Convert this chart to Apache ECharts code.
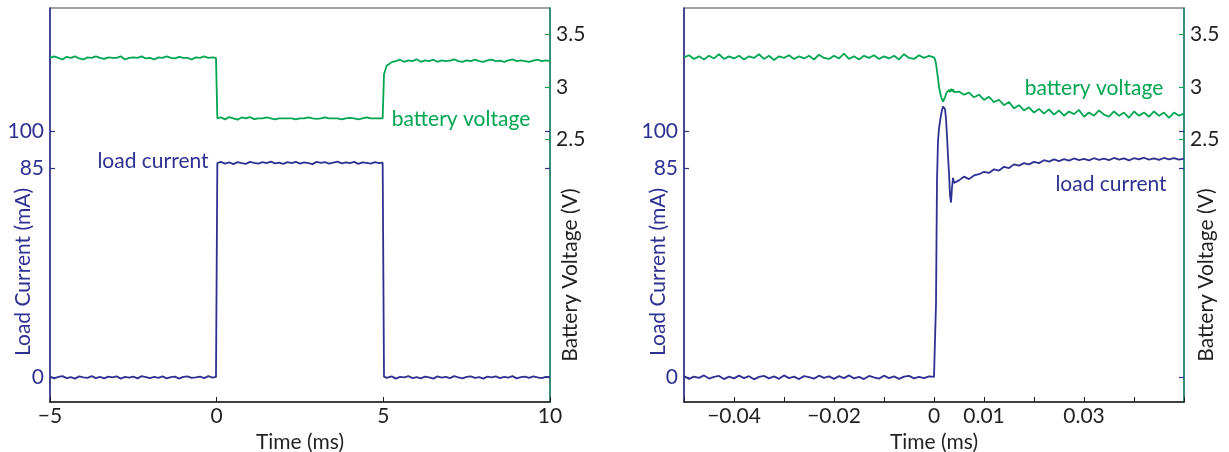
<!DOCTYPE html>
<html><head><meta charset="utf-8">
<script src="https://cdn.jsdelivr.net/npm/echarts@6/dist/echarts.min.js"></script>
<style>html,body{margin:0;padding:0;background:#fff}#c{width:1229px;height:452px}</style>
</head><body><div id="c"></div>
<script>
// ---------- DATA ----------
// Left panel: time (ms)
const leftTime = [
 -5,-4.875,-4.75,-4.625,-4.5,-4.375,-4.25,-4.125,-4,-3.875,
 -3.75,-3.625,-3.5,-3.375,-3.25,-3.125,-3,-2.875,-2.75,-2.625,
 -2.5,-2.375,-2.25,-2.125,-2,-1.875,-1.75,-1.625,-1.5,-1.375,
 -1.25,-1.125,-1,-0.875,-0.75,-0.625,-0.5,-0.375,-0.25,-0.125,
 -0.02,
 0.02,0.125,0.25,0.375,0.5,0.625,0.75,0.875,1,1.125,
 1.25,1.375,1.5,1.625,1.75,1.875,2,2.125,2.25,2.375,
 2.5,2.625,2.75,2.875,3,3.125,3.25,3.375,3.5,3.625,
 3.75,3.875,4,4.125,4.25,4.375,4.5,4.625,4.75,4.875,
 4.98,
 5.02,5.1,5.25,
 5.375,5.5,5.625,5.75,5.875,6,6.125,6.25,6.375,6.5,
 6.625,6.75,6.875,7,7.125,7.25,7.375,7.5,7.625,7.75,
 7.875,8,8.125,8.25,8.375,8.5,8.625,8.75,8.875,9,
 9.125,9.25,9.375,9.5,9.625,9.75,9.875,10
];
const leftVoltage = [
 3.275,3.290,3.275,3.260,3.285,3.275,3.290,3.270,3.260,3.280,
 3.275,3.290,3.275,3.265,3.280,3.275,3.275,3.290,3.260,3.275,
 3.280,3.275,3.290,3.270,3.275,3.260,3.280,3.275,3.290,3.275,
 3.270,3.285,3.275,3.275,3.260,3.280,3.275,3.290,3.275,3.280,
 3.275,
 2.700,2.710,2.690,2.712,2.700,2.688,2.708,2.700,2.712,2.692,
 2.700,2.700,2.708,2.700,2.690,2.700,2.700,2.700,2.700,2.690,
 2.700,2.700,2.710,2.700,2.695,2.700,2.710,2.700,2.700,2.700,
 2.690,2.700,2.705,2.700,2.690,2.700,2.710,2.700,2.700,2.700,
 2.700,
 3.120,3.200,3.235,
 3.245,3.258,3.238,3.252,3.245,3.262,3.238,3.252,3.245,3.258,
 3.238,3.252,3.245,3.250,3.262,3.245,3.238,3.252,3.245,3.258,
 3.245,3.238,3.252,3.258,3.245,3.250,3.238,3.252,3.262,3.245,
 3.252,3.245,3.238,3.250,3.258,3.245,3.252,3.245
];
const leftCurrent = [
 0.3,-0.4,0.2,0.5,-0.3,0.1,-0.5,0.4,0.0,-0.2,
 0.5,-0.3,0.2,-0.4,0.3,0.0,0.4,-0.5,0.2,-0.1,
 0.3,-0.4,0.5,0.1,-0.3,0.2,-0.2,0.4,-0.4,0.1,
 0.3,-0.5,0.2,0.4,-0.2,0.0,0.3,-0.3,0.5,-0.1,
 0.2,
 87.0,87.5,86.8,87.3,86.6,87.4,87.0,86.7,87.5,87.1,
 86.8,87.4,87.0,87.6,86.9,87.2,86.7,87.4,87.0,87.5,
 86.8,87.3,87.0,86.6,87.5,87.1,87.4,86.8,87.2,87.6,
 86.9,87.3,87.0,87.5,86.7,87.3,87.1,86.8,87.4,87.0,
 87.2,
 0.3,-0.2,0.4,-0.5,0.2,0.0,0.5,-0.3,0.1,-0.4,
 0.3,0.0,-0.5,0.4,-0.1,0.2,-0.3,0.5,0.0,-0.4,
 0.2,0.4,-0.2,0.1,-0.5,0.3,0.0,0.4,-0.3,0.2,
 -0.1,0.5,-0.4,0.1,0.3,-0.2,0.4,0.0,-0.3,0.2,
 0.1
];
// Right panel: time (ms)
const rightTime = [
 -0.050,-0.049,-0.048,-0.047,-0.046,-0.045,-0.044,-0.043,-0.042,-0.041,
 -0.040,-0.039,-0.038,-0.037,-0.036,-0.035,-0.034,-0.033,-0.032,-0.031,
 -0.030,-0.029,-0.028,-0.027,-0.026,-0.025,-0.024,-0.023,-0.022,-0.021,
 -0.020,-0.019,-0.018,-0.017,-0.016,-0.015,-0.014,-0.013,-0.012,-0.011,
 -0.010,-0.009,-0.008,-0.007,-0.006,-0.005,-0.004,-0.003,-0.002,-0.001,
 0.0000,0.0002,0.0004,0.0006,0.0008,0.0010,0.0012,0.0014,0.0016,0.0018,
 0.0020,0.0022,0.0024,0.0026,0.0028,0.0030,0.0032,0.0034,0.0036,0.0038,
 0.0040,
 0.005,0.006,0.007,0.008,0.009,0.010,0.011,0.012,0.013,0.014,
 0.015,0.016,0.017,0.018,0.019,0.020,0.021,0.022,0.023,0.024,
 0.025,0.026,0.027,0.028,0.029,0.030,0.031,0.032,0.033,0.034,
 0.035,0.036,0.037,0.038,0.039,0.040,0.041,0.042,0.043,0.044,
 0.045,0.046,0.047,0.048,0.049,0.050
];
const rightVoltage = [
 3.280,3.300,3.265,3.290,3.260,3.295,3.270,3.310,3.265,3.290,
 3.270,3.295,3.260,3.290,3.275,3.310,3.265,3.295,3.255,3.290,
 3.275,3.300,3.265,3.290,3.270,3.295,3.260,3.305,3.275,3.265,
 3.295,3.270,3.315,3.265,3.290,3.260,3.295,3.275,3.300,3.265,
 3.290,3.270,3.295,3.260,3.310,3.275,3.265,3.300,3.275,3.295,
 3.280,3.260,3.220,3.150,3.080,3.000,2.950,2.910,2.880,2.860,
 2.870,2.900,2.930,2.950,2.960,2.970,2.950,2.980,2.955,2.975,
 2.950,
 2.955,2.925,2.945,2.900,2.925,2.875,2.905,2.855,2.875,2.825,
 2.855,2.795,2.825,2.775,2.805,2.755,2.790,2.745,2.785,2.735,
 2.775,2.725,2.765,2.740,2.780,2.715,2.755,2.725,2.775,2.735,
 2.715,2.765,2.725,2.755,2.705,2.765,2.725,2.755,2.715,2.765,
 2.725,2.755,2.705,2.755,2.725,2.745
];
const rightCurrent = [
 0.5,-0.6,0.3,-0.2,0.8,-0.5,0.2,0.6,-0.7,0.3,
 -0.4,0.7,-0.3,0.5,-0.8,0.2,0.6,-0.4,0.4,-0.6,
 0.8,-0.3,0.3,-0.7,0.5,0.1,-0.5,0.7,-0.2,0.4,
 -0.6,0.5,-0.3,0.8,-0.4,0.2,-0.7,0.6,0.0,-0.5,
 0.7,-0.3,0.4,-0.6,0.3,0.6,-0.4,0.2,-0.3,0.4,
 0.2,0.8,30,80,96,101,104,106.5,108.5,110,
 110.5,109,105,98,90,83,74,71,77,81,
 79,
 80,81.5,80.5,82,82.5,83.5,83,84.5,84,85.5,
 85,86.5,86,87,86.5,87.5,87,88.2,87.6,88.5,
 87.8,88.6,88,88.9,88.2,88.7,88.1,89,88.3,88.8,
 88.2,89.1,88.4,88.9,88.1,89,88.5,89.2,88.4,88.9,
 88.3,89.1,88.5,89,88.4,88.8
];
const currentTicks = [0, 85, 100];
const voltageTicks = [2.5, 3, 3.5];
const leftTimeTicks = [-5, 0, 5, 10];
const rightTimeLabels = [-0.04, -0.02, 0, 0.01, 0.03];
const annotationTexts = ['battery voltage', 'load current'];
const titles = {current: 'Load Current (mA)', voltage: 'Battery Voltage (V)', time: 'Time (ms)'};

// ---------- CHART ----------
const BLUE = '#2e3192', GREEN = '#00a651', TEAL = '#1f8a78', DARK = '#231f20';
const FONT = 'Lato';
const FS = 21;
const zip = (t, v) => t.map((x, i) => [x, v[i]]);
const fmtMinus = v => String(v).replace('-', '\u2212');

function xAxisFor(gi, min, max, interval, labels) {
  return {
    type: 'value', gridIndex: gi, min, max, interval,
    name: titles.time, nameLocation: 'middle', nameGap: 29,
    nameTextStyle: {color: DARK, fontSize: FS, fontFamily: FONT},
    axisLine: {onZero: false, lineStyle: {color: DARK, width: 1.5}},
    axisTick: {inside: true, length: 5, lineStyle: {color: DARK}},
    axisLabel: {customValues: labels, formatter: fmtMinus, color: DARK, fontSize: FS, fontFamily: FONT, margin: 4},
    splitLine: {show: false}
  };
}
function yCurrent(gi) {
  return {
    type: 'value', gridIndex: gi, min: -10, max: 150, position: 'left',
    axisLine: {show: true, onZero: false, lineStyle: {color: BLUE, width: 1.5}},
    axisTick: {show: true, inside: true, length: 5, customValues: currentTicks, lineStyle: {color: BLUE, width: 1.2}},
    axisLabel: {customValues: currentTicks, color: BLUE, fontSize: FS, fontFamily: FONT, margin: 6},
    splitLine: {show: false}
  };
}
function yCurrentMirror(gi) {
  return {
    type: 'value', gridIndex: gi, min: -10, max: 150, position: 'right',
    axisLine: {show: false, onZero: false},
    axisTick: {show: true, inside: true, length: 5, customValues: currentTicks, lineStyle: {color: BLUE, width: 1.2}},
    axisLabel: {show: false},
    splitLine: {show: false}
  };
}
function yVoltage(gi) {
  return {
    type: 'value', gridIndex: gi, min: 0, max: 3.75, position: 'right',
    axisLine: {show: true, onZero: false, lineStyle: {color: TEAL, width: 1.5}},
    axisTick: {show: true, inside: true, length: 5, customValues: voltageTicks, lineStyle: {color: GREEN, width: 1.2}},
    axisLabel: {customValues: voltageTicks, color: DARK, fontSize: FS, fontFamily: FONT, margin: 6},
    splitLine: {show: false}
  };
}
function line(xi, yi, data, color) {
  return {type: 'line', xAxisIndex: xi, yAxisIndex: yi, data, showSymbol: false,
    lineStyle: {color, width: 1.8}, itemStyle: {color}, silent: true};
}
function txt(x, y, text, color, rot) {
  return {type: 'text', x, y, rotation: rot || 0, silent: true,
    style: {text, fill: color, font: FS + 'px ' + FONT, align: 'center', verticalAlign: 'middle'}};
}

const chart = echarts.init(document.getElementById('c'), null, {renderer: 'canvas'});
chart.setOption({
  animation: false,
  backgroundColor: '#fff',
  grid: [
    {left: 50, top: 8, width: 500, height: 394, show: true, borderColor: '#444', borderWidth: 1.2, outerBoundsMode: 'none', containLabel: false},
    {left: 684, top: 8, width: 500, height: 394, show: true, borderColor: '#444', borderWidth: 1.2, outerBoundsMode: 'none', containLabel: false}
  ],
  xAxis: [
    xAxisFor(0, leftTimeTicks[0], leftTimeTicks[leftTimeTicks.length - 1], 5, leftTimeTicks),
    xAxisFor(1, -0.05, 0.05, 0.01, rightTimeLabels)
  ],
  yAxis: [yCurrent(0), yVoltage(0), yCurrentMirror(0), yCurrent(1), yVoltage(1), yCurrentMirror(1)],
  series: [
    line(0, 1, zip(leftTime, leftVoltage), GREEN),
    line(0, 0, zip(leftTime, leftCurrent), BLUE),
    line(1, 4, zip(rightTime, rightVoltage), GREEN),
    line(1, 3, zip(rightTime, rightCurrent), BLUE)
  ],
  graphic: [
    txt(23, 272, titles.current, BLUE, Math.PI / 2),
    txt(570, 275, titles.voltage, DARK, Math.PI / 2),
    txt(658, 272, titles.current, BLUE, Math.PI / 2),
    txt(1206, 275, titles.voltage, DARK, Math.PI / 2),
    txt(461, 119, annotationTexts[0], GREEN),
    txt(153, 161, annotationTexts[1], BLUE),
    txt(1094, 88, annotationTexts[0], GREEN),
    txt(1111, 184, annotationTexts[1], BLUE)
  ]
});
</script></body></html>
